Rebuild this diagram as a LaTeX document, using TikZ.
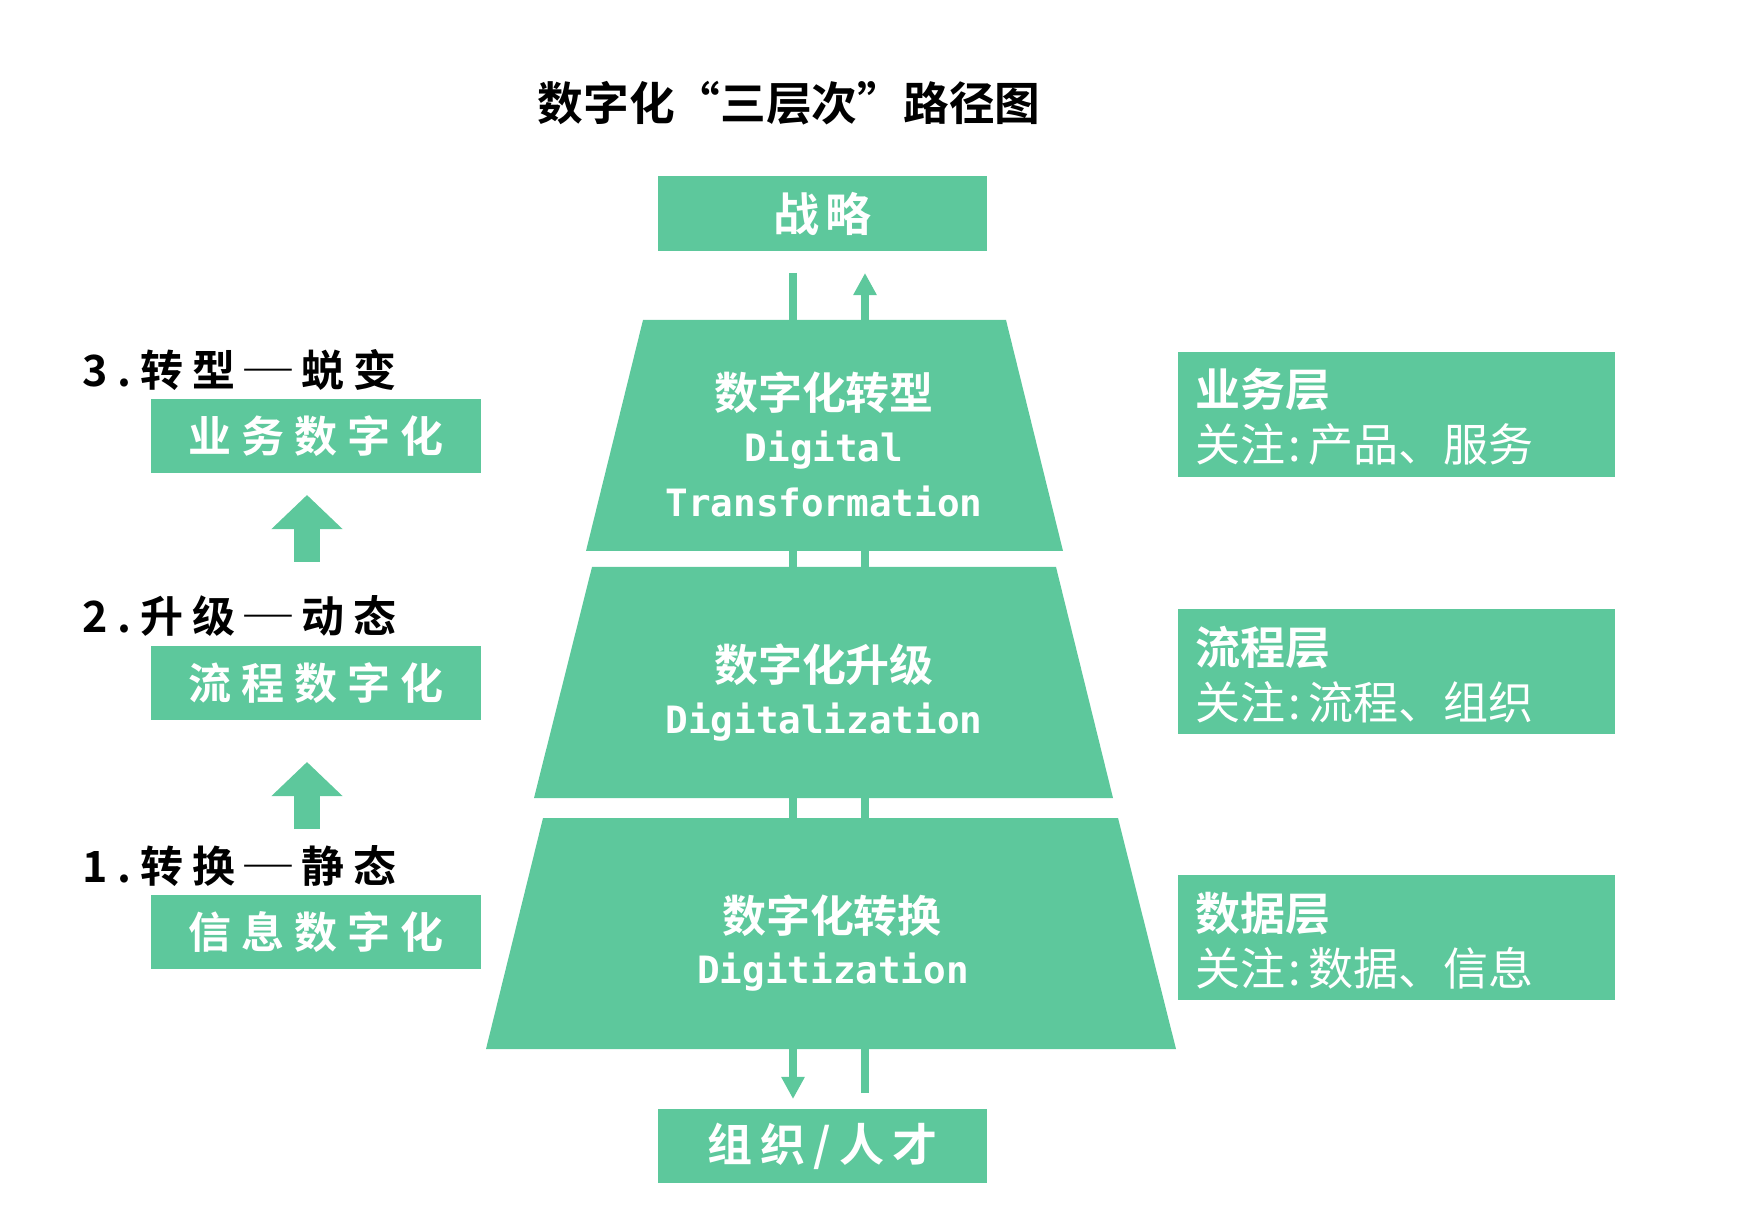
\documentclass[tikz,border=0pt]{standalone}
\usepackage{fontspec}
\setmainfont{Noto Sans CJK SC}[BoldFont={Noto Sans CJK SC Bold}]
\newfontfamily\latinmono{DejaVu Sans Mono}
\usepackage{tikz}
\usetikzlibrary{arrows.meta}
\definecolor{Leaf}{HTML}{5DC89C}
\newcommand\pxfont[1]{\fontsize{#1}{#1}\selectfont}
\newcommand\wdash{\kern1.6pt\scalebox{1.3}[1]{\addfontfeature{CharacterWidth=Full}—}\kern1.4pt}
\newcommand\gcolon{\kern0.8pt:\kern2.2pt}

\begin{document}
\begin{tikzpicture}[x=0.01cm,y=-0.01cm,
  greenbox/.style={fill=Leaf,inner sep=0pt,text=white},
  flow/.style={draw=Leaf,line width=0.08cm,-{Triangle[width=0.22cm,length=0.22cm]}},
  bigup/.style={draw=Leaf,line width=0.25cm,-{Triangle[width=0.69cm,length=0.34cm]}},
  zhlayer/.style={text=white,inner sep=0pt,font=\pxfont{12.5pt}\bfseries},
  enlayer/.style={text=white,anchor=base,inner sep=0pt,font=\latinmono\pxfont{10.7pt}\bfseries},
  steplabel/.style={anchor=base west,inner sep=0pt,font=\pxfont{12.23pt}\bfseries\addfontfeature{LetterSpace=21}},
  stepbox/.style={greenbox,minimum width=3.3cm,minimum height=0.74cm,font=\pxfont{12.23pt}\bfseries\addfontfeature{LetterSpace=23}},
  sidebox/.style={fill=Leaf,inner sep=0pt,minimum width=4.37cm,minimum height=1.25cm},
  sidehead/.style={anchor=base west,inner sep=0pt,text=white,font=\pxfont{12.8pt}\bfseries},
  sidetext/.style={anchor=base west,inner sep=0pt,text=white,font=\pxfont{12.8pt}}]
\useasboundingbox (0,0) rectangle (1764,1222);

% title
\node[inner sep=0pt,font=\pxfont{13pt}\bfseries] (title) at (789,103.5) {数字化“三层次”路径图};

% top and bottom boxes
\node[greenbox,minimum width=3.29cm,minimum height=0.74cm,font=\pxfont{13.09pt}\bfseries\addfontfeature{LetterSpace=13}] (strat) at (822.5,213.5) {战略};
\node[greenbox,minimum width=3.29cm,minimum height=0.74cm,font=\pxfont{12.8pt}\bfseries\addfontfeature{LetterSpace=18}] (org) at (822.5,1146) {组织/人才};

% lines through the pyramid
\coordinate (dnA) at (793,273);
\coordinate (dnB) at (793,1099);
\coordinate (upA) at (865,1093);
\coordinate (upB) at (865,273);
\draw[flow] (dnA) -- (dnB);
\draw[flow] (upA) -- (upB);

% three layers
\fill[Leaf] (643,320) -- (1006,320) -- (1063,551) -- (586,551) -- cycle;
\fill[Leaf] (592,567) -- (1056,567) -- (1113,798) -- (534,798) -- cycle;
\fill[Leaf] (543,818) -- (1118,818) -- (1176,1049) -- (486,1049) -- cycle;

\node[zhlayer] (l3zh) at (824,393) {数字化转型};
\node[enlayer] (l3en) at (824,462) {Digital};
\node[enlayer] (l3en2) at (824,517) {Transformation};
\node[zhlayer] (l2zh) at (824,665) {数字化升级};
\node[enlayer] (l2en) at (824,733) {Digitalization};
\node[zhlayer] (l1zh) at (832,916) {数字化转换};
\node[enlayer] (l1en) at (833,983) {Digitization};

% left steps
\node[steplabel] (lab3) at (82,387) {3.转型\wdash 蜕变};
\node[stepbox] (box3) at (316,436) {业务数字化};
\node[steplabel] (lab2) at (82,633) {2.升级\wdash 动态};
\node[stepbox] (box2) at (316,683) {流程数字化};
\node[steplabel] (lab1) at (82,882) {1.转换\wdash 静态};
\node[stepbox] (box1) at (316,932) {信息数字化};

\coordinate (up2A) at (307,562);
\coordinate (up2B) at (307,495);
\coordinate (up1A) at (307,829);
\coordinate (up1B) at (307,762);
\draw[bigup] (up2A) -- (up2B);
\draw[bigup] (up1A) -- (up1B);

% right side
\node[sidebox] (biz) at (1396.5,414.5) {};
\node[sidehead] (bizhead) at (1195,407) {业务层};
\node[sidetext] (biztext) at (1195,462) {关注\gcolon 产品、服务};
\node[sidebox] (proc) at (1396.5,671.5) {};
\node[sidehead] (prochead) at (1195,664) {流程层};
\node[sidetext] (proctext) at (1195,719) {关注\gcolon 流程、组织};
\node[sidebox] (data) at (1396.5,937.5) {};
\node[sidehead] (datahead) at (1195,930) {数据层};
\node[sidetext] (datatext) at (1195,985) {关注\gcolon 数据、信息};
\end{tikzpicture}
\end{document}
